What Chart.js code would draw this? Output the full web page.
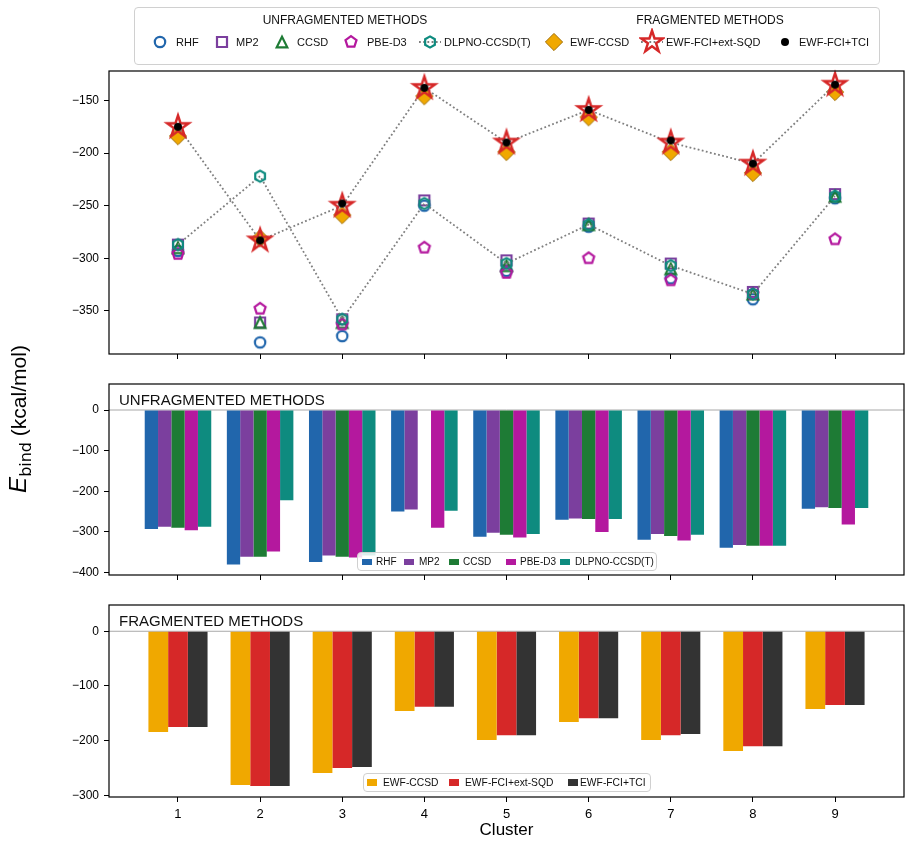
<!DOCTYPE html>
<html>
<head>
<meta charset="utf-8">
<title>Binding energies by cluster</title>
<script src="https://cdn.jsdelivr.net/npm/chart.js@4.4.1/dist/chart.umd.min.js"></script>
<style>
  body { margin: 0; background: #fff; font-family: "Liberation Sans", Arial, sans-serif; color: #000; }
  #fig { position: relative; width: 912px; height: 844px; overflow: hidden; }
  #fig canvas.panel { position: absolute; left: 0; }
  .legend { position: absolute; background: rgba(255,255,255,0.85); border: 1px solid #d0d0d0; border-radius: 4px; box-sizing: border-box; }
  .legend .t { position: absolute; white-space: nowrap; line-height: 1; transform: translateY(-50%); color: #111; }
  .legend .ic { position: absolute; }
  #ylab { position: absolute; left: -82px; top: 403px; width: 200px; height: 32px; line-height: 32px; text-align: center;
          transform: rotate(-90deg); font-size: 21px; white-space: nowrap; }
  #ylab i { font-size: 24px; }
  #ylab sub { font-family: "DejaVu Sans", sans-serif; font-size: 16px; vertical-align: -0.3em; }
</style>
</head>
<body>
<div id="fig">
  <canvas id="topChart" class="panel" width="912" height="318" style="top:51px"></canvas>
  <canvas id="unfragChart" class="panel" width="912" height="226" style="top:364px"></canvas>
  <canvas id="fragChart" class="panel" width="912" height="259" style="top:585px"></canvas>
  <div id="ylab"><i>E</i><sub>bind</sub> (kcal/mol)</div>
  <div id="topLegend" class="legend"></div>
  <div id="unfragLegend" class="legend"></div>
  <div id="fragLegend" class="legend"></div>
</div>
<script>
// binding energies, kcal/mol
const clusters = [1, 2, 3, 4, 5, 6, 7, 8, 9];
const unfragMethods = ['RHF', 'MP2', 'CCSD', 'PBE-D3', 'DLPNO-CCSD(T)'];
const fragMethods = ['EWF-CCSD', 'EWF-FCI+ext-SQD', 'EWF-FCI+TCI'];

const rhf   = [-293, -380, -374, -250, -312, -270, -319, -339, -243];
const mp2   = [-287, -361, -358, -245, -302, -267, -305, -332, -239];
const ccsd  = [-290, -361, -361, null, -307, -268, -310, -334, -241];
const pbeD3 = [-296, -348, -363, -290, -314, -300, -321, -334, -282];
const dlpno = [-287, -222, -358, -248, -305, -268, -307, -334, -241];

const ewfCcsd = [-184, -281, -259, -146, -199, -166, -199, -219, -142];
const ewfSqd  = [-175, -283, -250, -138, -190, -159, -190, -210, -135];
const ewfTci  = [-175, -283, -248, -138, -190, -159, -188, -210, -135];

const topTicks = [-350, -300, -250, -200, -150];
const unfragTicks = [-400, -300, -200, -100, 0];
const fragTicks = [-300, -200, -100, 0];

const colors = {
  rhf: '#2166ac', mp2: '#7b3f9e', ccsd: '#1e7b35', pbe: '#b4189e', dlpno: '#0e8b7f',
  ewf: '#f0a800', sqd: '#d62828', tci: '#333333'
};
const dotColor = '#7f7f7f';

Chart.defaults.font.family = '"Liberation Sans", Arial, sans-serif';
Chart.defaults.color = '#000';

// ---- marker images (matplotlib-like shapes) ----
function shapePath(g, shape, r) {
  if (shape === 'circle') { g.arc(0, 0, r, 0, Math.PI * 2); return; }
  if (shape === 'square') { g.rect(-r, -r, 2 * r, 2 * r); return; }
  if (shape === 'triangle') { g.moveTo(0, -r); g.lineTo(r, r); g.lineTo(-r, r); g.closePath(); return; }
  if (shape === 'diamond') { g.moveTo(0, -r); g.lineTo(r, 0); g.lineTo(0, r); g.lineTo(-r, 0); g.closePath(); return; }
  let n = shape === 'pentagon' ? 5 : shape === 'hexagon' ? 6 : 10;
  for (let i = 0; i < n; i++) {
    const a = -Math.PI / 2 + i * 2 * Math.PI / n;
    const rr = shape === 'star' && i % 2 ? r * 0.382 : r;
    if (i === 0) g.moveTo(rr * Math.cos(a), rr * Math.sin(a)); else g.lineTo(rr * Math.cos(a), rr * Math.sin(a));
  }
  g.closePath();
}
function marker(shape, r, stroke, fill, lw) {
  let size = Math.ceil(2 * r + 2 * lw + 4);
  if (size % 2) size++;
  const c = document.createElement('canvas');
  c.width = c.height = size;
  const g = c.getContext('2d');
  g.translate(size / 2, size / 2);
  g.beginPath();
  shapePath(g, shape, r);
  if (fill) { g.fillStyle = fill; g.fill(); }
  if (lw) { g.lineWidth = lw; g.strokeStyle = stroke; g.lineJoin = 'miter'; g.stroke(); }
  return c;
}
const mk = {
  rhf: marker('circle', 5.2, colors.rhf, null, 2.2),
  mp2: marker('square', 5, colors.mp2, null, 2.2),
  ccsd: marker('triangle', 5.3, colors.ccsd, null, 2.2),
  pbe: marker('pentagon', 5.8, colors.pbe, null, 2.2),
  dlpno: marker('hexagon', 5.6, colors.dlpno, null, 2.2),
  ewf: marker('diamond', 8.6, '#a06c00', colors.ewf, 1),
  sqd: marker('star', 11.3, colors.sqd, null, 2.5),
  tci: marker('circle', 4, '#000', '#000', 0)
};

function pts(values) { return clusters.map((c, i) => ({ x: c, y: values[i] })); }

// ---- shared axes ----
function yAxis(min, max, ticks) {
  return {
    type: 'linear', min, max, bounds: 'data',
    afterBuildTicks: s => { s.ticks = ticks.map(v => ({ value: v })); },
    afterFit: s => { s.width = 109; },
    ticks: { font: { size: 12 }, color: '#000', padding: 5, callback: v => String(v).replace('-', '\u2212') },
    grid: { drawOnChartArea: false, drawTicks: true, tickLength: 5, color: '#000', offset: false },
    border: { display: false }
  };
}
function xAxis(labels, height) {
  const ax = {
    type: 'linear', min: 0.16, max: 9.84, bounds: 'data', offset: false,
    afterBuildTicks: s => { s.ticks = clusters.map(v => ({ value: v })); },
    afterFit: s => { s.height = height; },
    ticks: { display: labels, font: { size: 13 }, color: '#000', padding: 5, maxRotation: 0, callback: v => String(v) },
    grid: { drawOnChartArea: false, drawTicks: true, tickLength: 5, color: '#000', offset: false },
    border: { display: false }
  };
  if (labels) ax.title = { display: true, text: 'Cluster', font: { size: 17 }, color: '#000', padding: { top: 2, bottom: 3 } };
  return ax;
}

// frame, zero line and panel caption
const panelDecor = {
  id: 'panelDecor',
  beforeDatasetsDraw(chart, args, opts) {
    if (!opts.zero) return;
    const { ctx, chartArea: a } = chart;
    const y = chart.scales.y.getPixelForValue(0);
    ctx.save();
    ctx.strokeStyle = '#a8a8a8';
    ctx.lineWidth = 1;
    ctx.beginPath(); ctx.moveTo(a.left, y); ctx.lineTo(a.right, y); ctx.stroke();
    ctx.restore();
  },
  afterDraw(chart, args, opts) {
    const { ctx, chartArea: a } = chart;
    ctx.save();
    ctx.strokeStyle = '#000';
    ctx.lineWidth = 1.2;
    ctx.strokeRect(a.left, a.top, a.right - a.left, a.bottom - a.top);
    if (opts.title) {
      ctx.font = '15px "Liberation Sans", Arial, sans-serif';
      ctx.fillStyle = '#111';
      ctx.textBaseline = 'alphabetic';
      ctx.fillText(opts.title, a.left + 10, a.top + 21);
    }
    ctx.restore();
  }
};

function baseOptions(yScale, xScale, decor) {
  return {
    responsive: false, animation: false, events: [],
    layout: { padding: { top: 20, right: 8, bottom: 0, left: 0 } },
    plugins: { legend: { display: false }, tooltip: { enabled: false }, panelDecor: decor },
    scales: { x: xScale, y: yScale }
  };
}

// ---- top panel: markers ----
function markerSet(label, values, img, order, line) {
  return {
    label, data: pts(values), order,
    pointStyle: img, pointRadius: 6, pointHoverRadius: 6,
    showLine: !!line, borderColor: dotColor, borderWidth: 1.8, borderDash: [1.8, 2.4], borderCapStyle: 'butt',
    backgroundColor: 'transparent', fill: false, tension: 0, clip: false
  };
}
new Chart(document.getElementById('topChart'), {
  type: 'line',
  data: {
    datasets: [
      markerSet(unfragMethods[0], rhf, mk.rhf, 7),
      markerSet(unfragMethods[1], mp2, mk.mp2, 6),
      markerSet(unfragMethods[2], ccsd, mk.ccsd, 5),
      markerSet(unfragMethods[3], pbeD3, mk.pbe, 4),
      markerSet(unfragMethods[4], dlpno, mk.dlpno, 3, true),
      markerSet(fragMethods[0], ewfCcsd, mk.ewf, 2),
      markerSet(fragMethods[1], ewfSqd, mk.sqd, 1, true),
      markerSet(fragMethods[2], ewfTci, mk.tci, 0)
    ]
  },
  options: baseOptions(yAxis(-391, -122, topTicks), xAxis(false, 15), {}),
  plugins: [panelDecor]
});

// ---- bar panels ----
function barSet(label, values, color, pct) {
  return { label, data: pts(values), backgroundColor: color, borderWidth: 0, categoryPercentage: pct, barPercentage: 1 };
}
new Chart(document.getElementById('unfragChart'), {
  type: 'bar',
  data: {
    datasets: [
      barSet(unfragMethods[0], rhf, colors.rhf, 0.81),
      barSet(unfragMethods[1], mp2, colors.mp2, 0.81),
      barSet(unfragMethods[2], ccsd, colors.ccsd, 0.81),
      barSet(unfragMethods[3], pbeD3, colors.pbe, 0.81),
      barSet(unfragMethods[4], dlpno, colors.dlpno, 0.81)
    ]
  },
  options: baseOptions(yAxis(-406, 64, unfragTicks), xAxis(false, 15), { zero: true, title: 'UNFRAGMENTED METHODS' }),
  plugins: [panelDecor]
});
new Chart(document.getElementById('fragChart'), {
  type: 'bar',
  data: {
    datasets: [
      barSet(fragMethods[0], ewfCcsd, colors.ewf, 0.72),
      barSet(fragMethods[1], ewfSqd, colors.sqd, 0.72),
      barSet(fragMethods[2], ewfTci, colors.tci, 0.72)
    ]
  },
  options: baseOptions(yAxis(-303, 48, fragTicks), xAxis(true, 47), { zero: true, title: 'FRAGMENTED METHODS' }),
  plugins: [panelDecor]
});

// ---- legends (HTML) ----
function place(el, box) {
  Object.assign(el.style, { left: box.x + 'px', top: box.y + 'px', width: box.w + 'px', height: box.h + 'px' });
}
function addText(el, box, text, x, cy, size, center) {
  const s = document.createElement('span');
  s.className = 't';
  s.textContent = text;
  s.style.fontSize = size + 'px';
  s.style.top = (cy - box.y - 1) + 'px';
  s.style.left = (x - box.x - 1) + 'px';
  if (center) s.style.transform = 'translate(-50%,-50%)';
  el.appendChild(s);
}
function addIcon(el, box, canvas, cx, cy) {
  canvas.className = 'ic';
  canvas.style.left = (cx - canvas.width / 2 - box.x - 1) + 'px';
  canvas.style.top = (cy - canvas.height / 2 - box.y - 1) + 'px';
  el.appendChild(canvas);
}
function markerIcon(img, line) {
  const c = document.createElement('canvas');
  c.width = 26; c.height = 28;
  const g = c.getContext('2d');
  if (line) {
    g.setLineDash([1.8, 2.4]); g.strokeStyle = dotColor; g.lineWidth = 1.8;
    g.beginPath(); g.moveTo(2, 14); g.lineTo(24, 14); g.stroke(); g.setLineDash([]);
  }
  g.drawImage(img, (26 - img.width) / 2, (28 - img.height) / 2);
  return c;
}
function swatch(color, w, h) {
  const c = document.createElement('canvas');
  c.width = w; c.height = h;
  const g = c.getContext('2d');
  g.fillStyle = color; g.fillRect(0, 0, w, h);
  return c;
}

const topBox = { x: 134, y: 7, w: 746, h: 58 };
const topEl = document.getElementById('topLegend');
place(topEl, topBox);
addText(topEl, topBox, 'UNFRAGMENTED METHODS', 345, 20, 12, true);
addText(topEl, topBox, 'FRAGMENTED METHODS', 710, 20, 12, true);
const topLegend = [
  [unfragMethods[0], mk.rhf, false, 160, 176],
  [unfragMethods[1], mk.mp2, false, 222, 236],
  [unfragMethods[2], mk.ccsd, false, 282, 297],
  [unfragMethods[3], mk.pbe, false, 351, 367],
  [unfragMethods[4], mk.dlpno, true, 430, 444],
  [fragMethods[0], mk.ewf, false, 554, 570],
  [fragMethods[1], mk.sqd, true, 652, 666],
  [fragMethods[2], mk.tci, false, 785, 799]
];
topLegend.forEach(([label, img, line, mx, tx]) => {
  addIcon(topEl, topBox, markerIcon(img, line), mx, 42);
  addText(topEl, topBox, label, tx, 42, 11);
});

const unfragBox = { x: 357, y: 552, w: 300, h: 19 };
const unfragEl = document.getElementById('unfragLegend');
place(unfragEl, unfragBox);
[[colors.rhf, 362, 376], [colors.mp2, 404, 419], [colors.ccsd, 449, 463], [colors.pbe, 506, 520], [colors.dlpno, 560, 575]]
  .forEach(([col, sx, tx], i) => {
    addIcon(unfragEl, unfragBox, swatch(col, 10, 6), sx + 5, 561.5);
    addText(unfragEl, unfragBox, unfragMethods[i], tx, 561.5, 10);
  });

const fragBox = { x: 363, y: 773, w: 288, h: 19 };
const fragEl = document.getElementById('fragLegend');
place(fragEl, fragBox);
[[colors.ewf, 367, 383], [colors.sqd, 449, 465], [colors.tci, 568, 580]]
  .forEach(([col, sx, tx], i) => {
    addIcon(fragEl, fragBox, swatch(col, 10, 7), sx + 5, 782.5);
    addText(fragEl, fragBox, fragMethods[i], tx, 782.5, 10.3);
  });
</script>
</body>
</html>
